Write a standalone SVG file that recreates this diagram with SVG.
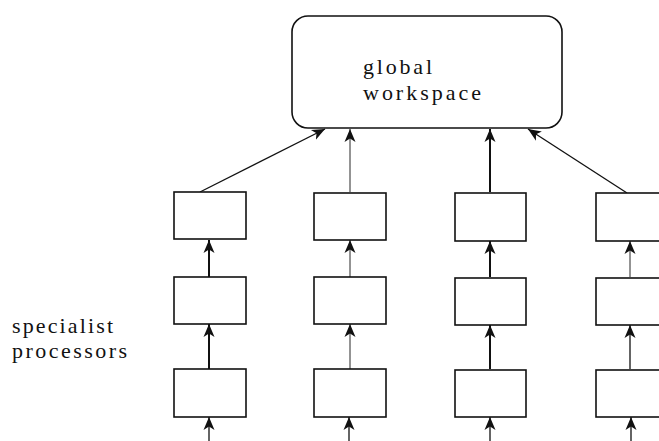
<svg xmlns="http://www.w3.org/2000/svg" width="659" height="441" viewBox="0 0 659 441">
<style>
.box{fill:#fff;stroke:#111;stroke-width:1.6}
.lbl{font-family:"Liberation Serif","Times New Roman",serif;font-size:22px;fill:#111}
.c{stroke:#111;fill:none;stroke-width:1.3;marker-end:url(#ah)}
.thick{stroke-width:2}
.thin{stroke-width:0.9}
</style>
<defs>
<marker id="ah" viewBox="0 0 14 14" refX="13" refY="7" markerWidth="14" markerHeight="14" markerUnits="userSpaceOnUse" orient="auto">
<path d="M0,1.5 L13,7 L0,12.5 L3.5,7 Z" fill="#111"/>
</marker>
</defs>
<rect width="659" height="441" fill="#fff"/>
<g id="connectors">
<line class="c" x1="200" y1="192" x2="325" y2="129"/>
<line class="c thin" x1="350" y1="192" x2="350" y2="129"/>
<line class="c thick" x1="490" y1="192" x2="490" y2="129"/>
<line class="c" x1="627" y1="193" x2="528" y2="129"/>
<line class="c thick" x1="209" y1="277" x2="209" y2="240"/>
<line class="c thin" x1="350" y1="277" x2="350" y2="240"/>
<line class="c thick" x1="490" y1="277" x2="490" y2="241"/>
<line class="c thin" x1="630" y1="277" x2="630" y2="241"/>
<line class="c thick" x1="209" y1="369" x2="209" y2="324"/>
<line class="c thin" x1="350" y1="369" x2="350" y2="324"/>
<line class="c thick" x1="490" y1="369" x2="490" y2="325"/>
<line class="c" x1="630" y1="369" x2="630" y2="325"/>
<line class="c" x1="209" y1="441" x2="209" y2="417"/>
<line class="c" x1="349" y1="441" x2="349" y2="417"/>
<line class="c" x1="490" y1="441" x2="490" y2="417"/>
<line class="c" x1="631" y1="441" x2="631" y2="417"/>
</g>
<g id="workspace">
<rect class="box" x="292" y="16" width="270" height="112" rx="16" ry="16"/>
<text class="lbl" x="363" y="74" textLength="69" lengthAdjust="spacing">global</text>
<text class="lbl" x="363" y="100" textLength="118" lengthAdjust="spacing">workspace</text>
</g>
<g id="p11"><rect class="box" x="174" y="192" width="72" height="47"/></g>
<g id="p12"><rect class="box" x="314" y="193" width="72" height="47"/></g>
<g id="p13"><rect class="box" x="455" y="193" width="71" height="48"/></g>
<g id="p14"><rect class="box" x="596" y="193" width="72" height="48"/></g>
<g id="p21"><rect class="box" x="174" y="277" width="72" height="47"/></g>
<g id="p22"><rect class="box" x="314" y="277" width="72" height="47"/></g>
<g id="p23"><rect class="box" x="455" y="278" width="71" height="47"/></g>
<g id="p24"><rect class="box" x="596" y="278" width="72" height="47"/></g>
<g id="p31"><rect class="box" x="174" y="369" width="72" height="48"/></g>
<g id="p32"><rect class="box" x="314" y="369" width="72" height="48"/></g>
<g id="p33"><rect class="box" x="455" y="370" width="71" height="47"/></g>
<g id="p34"><rect class="box" x="596" y="370" width="72" height="47"/></g>
<g id="label">
<text class="lbl" x="12" y="333" textLength="101" lengthAdjust="spacing">specialist</text>
<text class="lbl" x="12" y="358" textLength="115" lengthAdjust="spacing">processors</text>
</g>
</svg>
